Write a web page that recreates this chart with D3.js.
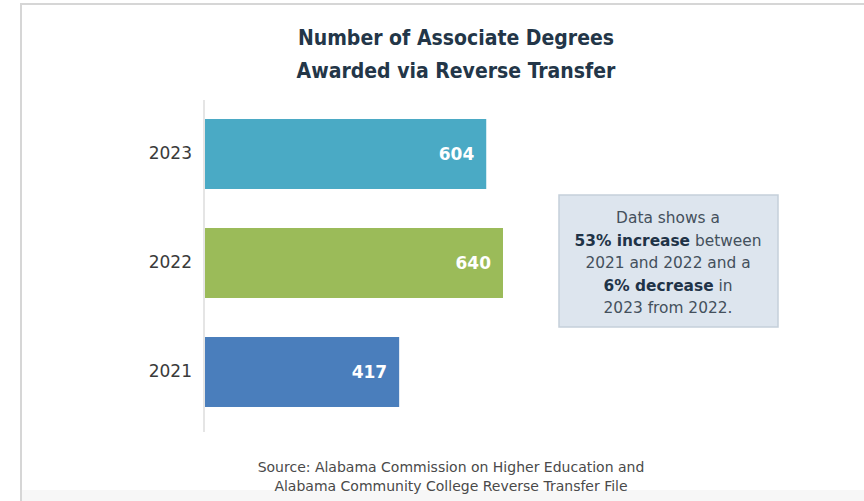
<!DOCTYPE html>
<html>
<head>
<meta charset="utf-8">
<script src="https://cdn.jsdelivr.net/npm/d3@7"></script>
<style>
  body { margin: 0; background: #fff; }
  svg { display: block; }
  .year { font-family: "DejaVu Sans", sans-serif; font-size: 17px; fill: #3a3a3a; }
  .value { font-family: "DejaVu Sans", sans-serif; font-size: 17px; font-weight: bold; fill: #fff; }
  .title { font-family: "Liberation Sans Narrow", "DejaVu Sans Condensed", sans-serif; font-size: 21px; font-weight: bold; fill: #233648; }
  .note { font-family: "DejaVu Sans", sans-serif; font-size: 15.4px; fill: #44505c; }
  .note .b { font-weight: bold; fill: #1f3347; }
  .source { font-family: "DejaVu Sans", sans-serif; font-size: 14px; fill: #4a4a4a; }
</style>
</head>
<body>
<svg id="chart" width="864" height="501"></svg>
<script>
// data
var years = ["2023", "2022", "2021"];
var degrees = [604, 640, 417];
var barColors = ["#4aaac5", "#9bbb59", "#4a7ebc"];

var titleLines = ["Number of Associate Degrees", "Awarded via Reverse Transfer"];
var noteLines = [
  [{t: "Data shows a"}],
  [{t: "53% increase", b: true}, {t: " between"}],
  [{t: "2021 and 2022 and a"}],
  [{t: "6% decrease", b: true}, {t: " in"}],
  [{t: "2023 from 2022."}]
];
var sourceLines = [
  "Source: Alabama Commission on Higher Education and",
  "Alabama Community College Reverse Transfer File"
];

var svg = d3.select("#chart");

// frame (left + top edges only, rest runs off the page)
svg.append("rect")
   .attr("x", 22).attr("y", 490)
   .attr("width", 842).attr("height", 11)
   .attr("fill", "#f7f7f7");
svg.append("path")
   .attr("d", "M21,501V4H864")
   .attr("fill", "none")
   .attr("stroke", "#d6d6d6")
   .attr("stroke-width", 2);

// scales
var x = d3.scaleLinear().domain([0, 640]).range([205, 503]);
var y = d3.scaleBand().domain(years).range([99.5, 426.5])
          .paddingInner(0.358).paddingOuter(0.179);
var color = d3.scaleOrdinal().domain(years).range(barColors);

var data = years.map(function(yr, i) { return {year: yr, value: degrees[i]}; });

// title
svg.append("text")
   .attr("class", "title")
   .attr("text-anchor", "middle")
   .selectAll("tspan")
   .data(titleLines)
   .enter().append("tspan")
     .attr("x", 456)
     .attr("y", function(d, i) { return 45 + i * 33; })
     .text(function(d) { return d; });

// bars
svg.selectAll(".bar")
   .data(data)
   .enter().append("rect")
     .attr("class", "bar")
     .attr("x", x(0))
     .attr("y", function(d) { return y(d.year); })
     .attr("width", function(d) { return x(d.value) - x(0); })
     .attr("height", y.bandwidth())
     .attr("fill", function(d) { return color(d.year); });

// value labels
svg.selectAll(".value")
   .data(data)
   .enter().append("text")
     .attr("class", "value")
     .attr("text-anchor", "end")
     .attr("x", function(d) { return x(d.value) - 12; })
     .attr("y", function(d) { return y(d.year) + y.bandwidth() / 2; })
     .attr("dy", "0.36em")
     .text(function(d) { return d.value; });

// Y axis
var yAxis = svg.append("g")
   .attr("transform", "translate(204,0)")
   .call(d3.axisLeft(y).tickSize(0).tickPadding(12));
yAxis.select(".domain").remove();
yAxis.selectAll("text").attr("class", "year").attr("fill", null).attr("font-size", null).attr("font-family", null);
svg.append("line")
   .attr("x1", 204).attr("x2", 204)
   .attr("y1", 100).attr("y2", 432)
   .attr("stroke", "#dcdcdc")
   .attr("stroke-width", 1.5);

// note box
svg.append("rect")
   .attr("x", 559).attr("y", 195)
   .attr("width", 219).attr("height", 132)
   .attr("fill", "#dde5ee")
   .attr("stroke", "#c5cfda")
   .attr("stroke-width", 1.5);

var note = svg.append("text")
   .attr("class", "note")
   .attr("text-anchor", "middle");
noteLines.forEach(function(line, i) {
  var ln = note.append("tspan")
     .attr("x", 668)
     .attr("y", 223 + i * 22.5);
  line.forEach(function(part) {
    ln.append("tspan")
      .attr("class", part.b ? "b" : null)
      .text(part.t);
  });
});

// source
svg.append("text")
   .attr("class", "source")
   .attr("text-anchor", "middle")
   .selectAll("tspan")
   .data(sourceLines)
   .enter().append("tspan")
     .attr("x", 451)
     .attr("y", function(d, i) { return 472 + i * 19; })
     .text(function(d) { return d; });
</script>
</body>
</html>
